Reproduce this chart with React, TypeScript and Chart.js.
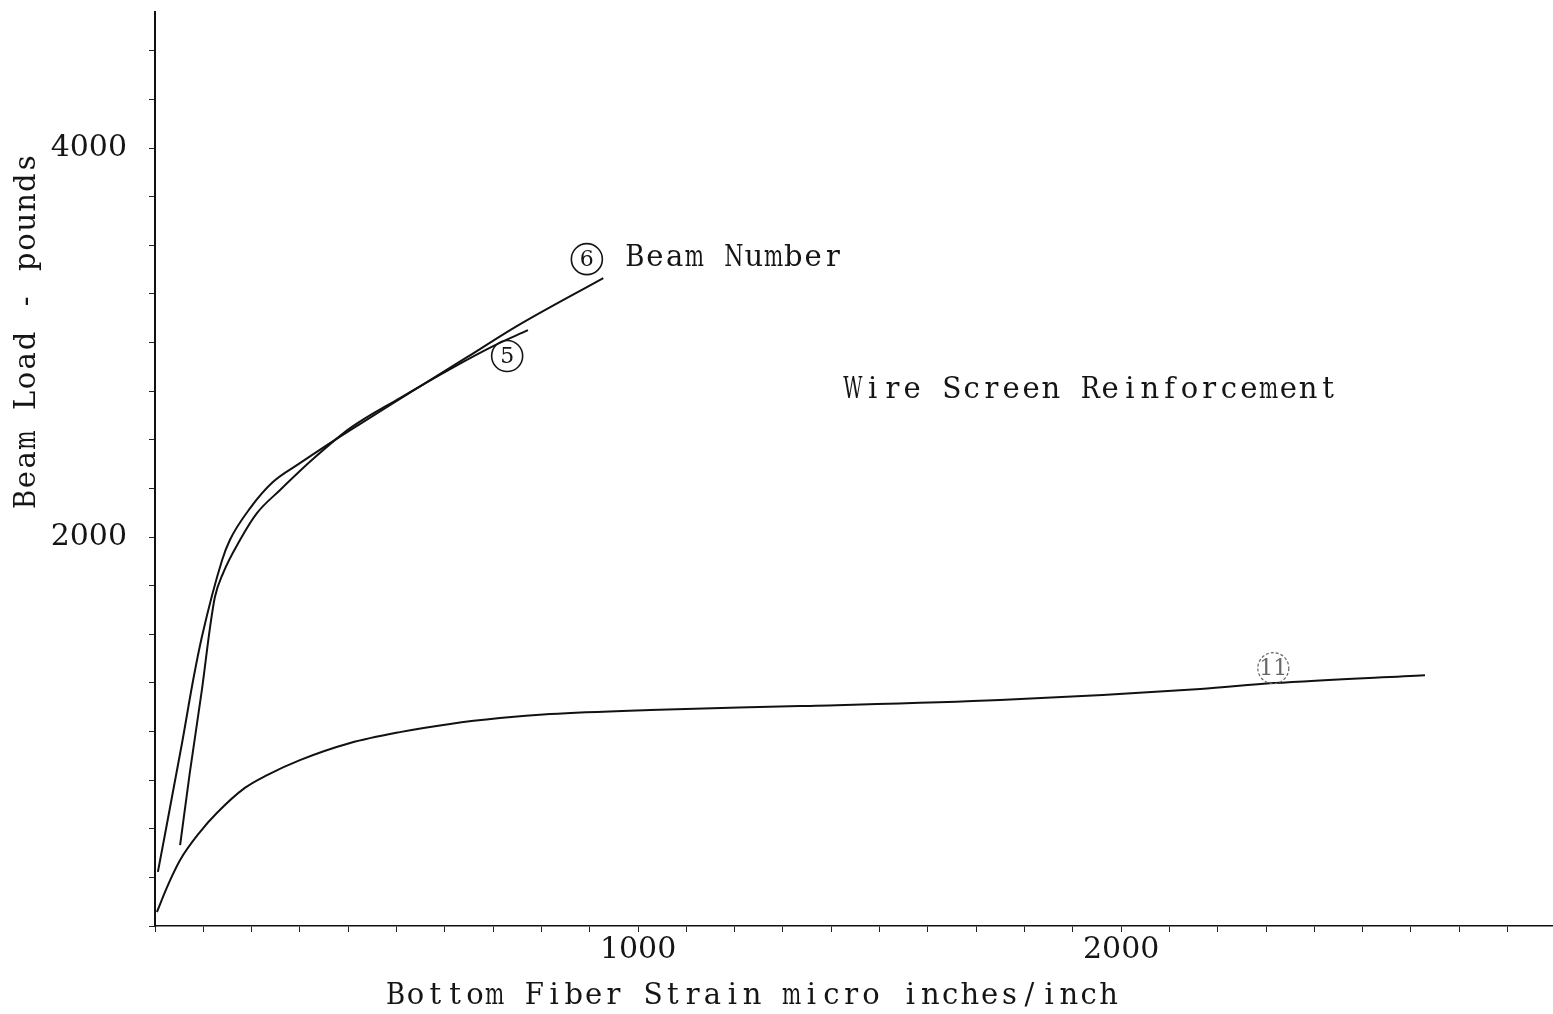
import React, { useEffect, useRef } from "react";
import { Chart, registerables } from "chart.js";

Chart.register(...registerables);

// Beam 6
const strain6 = [6, 56, 79, 97, 139, 155, 197, 244, 300, 356, 424, 507, 646, 749, 928];
const load6 = [278, 941, 1265, 1486, 1882, 1985, 2149, 2283, 2380, 2473, 2581, 2710, 2925, 3085, 3332];
// Beam 5
const strain5 = [52, 72, 97, 114, 124, 141, 176, 211, 259, 327, 404, 507, 611, 700, 772];
const load5 = [416, 787, 1213, 1537, 1692, 1815, 1985, 2123, 2242, 2401, 2560, 2715, 2864, 2982, 3064];
// Beam 11
const strain11 = [4, 25, 52, 93, 128, 186, 232, 300, 404, 507, 611, 714, 818, 1025, 1335, 1749, 2164, 2315, 2629];
const load11 = [72, 200, 339, 483, 581, 710, 776, 853, 941, 997, 1039, 1069, 1090, 1111, 1131, 1162, 1219, 1249, 1290];

const xTickValues = [0, 100, 200, 300, 400, 500, 600, 700, 800, 900, 1000, 1100, 1200, 1300, 1400, 1500, 1600, 1700, 1800, 1900, 2000, 2100, 2200, 2300, 2400, 2500, 2600, 2700, 2800];
const yTickValues = [0, 250, 500, 750, 1000, 1250, 1500, 1750, 2000, 2250, 2500, 2750, 3000, 3250, 3500, 3750, 4000, 4250, 4500];
const xLabeled = [1000, 2000];
const yLabeled = [2000, 4000];

const xTitle = "Bottom Fiber Strain micro inches/inch";
const yTitle = "Beam Load - pounds";

const noteTexts = ["Beam Number", "Wire Screen Reinforcement"];
const noteX = [973, 1424];
const noteY = [3434, 2756];

const circleTexts = ["6", "5", "11"];
const circleX = [894, 729, 2315];
const circleY = [3429, 2931, 1326];

const FONT = '"DejaVu Serif", "Liberation Serif", serif';
const ADV = 19.8;

const toPts = (xs: number[], ys: number[]) => xs.map((v, i) => ({ x: v, y: ys[i] }));

// typewriter style: every character in a fixed-width cell
function drawMono(ctx: CanvasRenderingContext2D, text: string, x0: number, y: number) {
  ctx.textAlign = "center";
  for (let i = 0; i < text.length; i++) {
    const ch = text[i];
    if (ch === " ") continue;
    const cx = x0 + (i + 0.5) * ADV;
    const w = ctx.measureText(ch).width;
    const lim = ADV * 0.97;
    if (w > lim) {
      ctx.save();
      ctx.translate(cx, y);
      ctx.scale(lim / w, 1);
      ctx.fillText(ch, 0, 0);
      ctx.restore();
    } else {
      ctx.fillText(ch, cx, y);
    }
  }
}

const annotPlugin = {
  id: "annot",
  afterDraw(chart: any) {
    const { ctx } = chart;
    const x = chart.scales.x;
    const y = chart.scales.y;
    ctx.save();
    ctx.fillStyle = "#151515";
    ctx.strokeStyle = "#151515";
    ctx.font = `29px ${FONT}`;
    ctx.textBaseline = "middle";
    noteTexts.forEach((t, i) => {
      drawMono(ctx, t, x.getPixelForValue(noteX[i]), y.getPixelForValue(noteY[i]));
    });
    // x title (centred)
    const xc = x.getPixelForValue(1236);
    drawMono(ctx, xTitle, xc - (xTitle.length * ADV) / 2, y.getPixelForValue(-360));
    // y title (rotated, centred)
    ctx.save();
    ctx.translate(x.getPixelForValue(-265), y.getPixelForValue(3059));
    ctx.rotate(-Math.PI / 2);
    drawMono(ctx, yTitle, -(yTitle.length * ADV) / 2, 0);
    ctx.restore();
    // circled beam numbers
    circleTexts.forEach((t, i) => {
      const cx = x.getPixelForValue(circleX[i]);
      const cy = y.getPixelForValue(circleY[i]);
      const faint = i === 2;
      ctx.beginPath();
      ctx.lineWidth = faint ? 1.2 : 1.6;
      ctx.strokeStyle = faint ? "#666" : "#151515";
      if (faint) ctx.setLineDash([3, 2]);
      ctx.arc(cx, cy, 15.5, 0, Math.PI * 2);
      ctx.stroke();
      ctx.setLineDash([]);
      ctx.font = `22px ${FONT}`;
      ctx.textAlign = "center";
      ctx.fillStyle = faint ? "#666" : "#151515";
      ctx.fillText(t, cx, cy + 1);
    });
    ctx.restore();
  },
};

export default function App() {
  const ref = useRef<HTMLCanvasElement>(null);
  useEffect(() => {
    if (!ref.current) return;
    const lineDs = (label: string, xs: number[], ys: number[]) => ({
      label,
      data: toPts(xs, ys),
      borderColor: "#111",
      borderWidth: 2,
      pointRadius: 0,
      fill: false,
      cubicInterpolationMode: "monotone" as const,
    });
    const chart = new Chart(ref.current, {
      type: "line",
      data: {
        datasets: [
          lineDs("Beam 6", strain6, load6),
          lineDs("Beam 5", strain5, load5),
          lineDs("Beam 11", strain11, load11),
        ],
      },
      options: {
        animation: false,
        responsive: true,
        maintainAspectRatio: false,
        layout: { padding: { top: 12, left: 0, right: 0, bottom: 0 } },
        plugins: { legend: { display: false }, tooltip: { enabled: false } },
        scales: {
          x: {
            type: "linear",
            min: 0,
            max: 2894,
            afterBuildTicks: (s: any) => {
              s.ticks = xTickValues.map((v) => ({ value: v }));
            },
            afterFit: (s: any) => {
              s.height = 88;
              s.paddingLeft = 0;
              s.paddingRight = 0;
            },
            border: { color: "#111", width: 1.5 },
            grid: { drawOnChartArea: false, drawTicks: true, tickLength: 6, color: "#222" },
            ticks: {
              autoSkip: false,
              maxRotation: 0,
              padding: 0,
              color: "#151515",
              font: { family: FONT, size: 30 },
              callback: (v: any) => (xLabeled.includes(Math.round(Number(v))) ? String(Math.round(Number(v))) : ""),
            },
          },
          y: {
            type: "linear",
            min: 0,
            max: 4700,
            afterBuildTicks: (s: any) => {
              s.ticks = yTickValues.map((v) => ({ value: v }));
            },
            afterFit: (s: any) => {
              s.width = 155;
              s.paddingTop = 0;
              s.paddingBottom = 0;
            },
            border: { color: "#111", width: 2 },
            grid: { drawOnChartArea: false, drawTicks: true, tickLength: 6, color: "#222" },
            ticks: {
              autoSkip: false,
              padding: 22,
              color: "#151515",
              font: { family: FONT, size: 30 },
              callback: (v: any) => (yLabeled.includes(Math.round(Number(v))) ? String(Math.round(Number(v))) : ""),
            },
          },
        },
      },
      plugins: [annotPlugin],
    });
    return () => chart.destroy();
  }, []);
  return (
    <div style={{ position: "fixed", left: 0, top: 0, width: 1553, height: 1014, background: "#fff" }}>
      <canvas ref={ref} />
    </div>
  );
}
